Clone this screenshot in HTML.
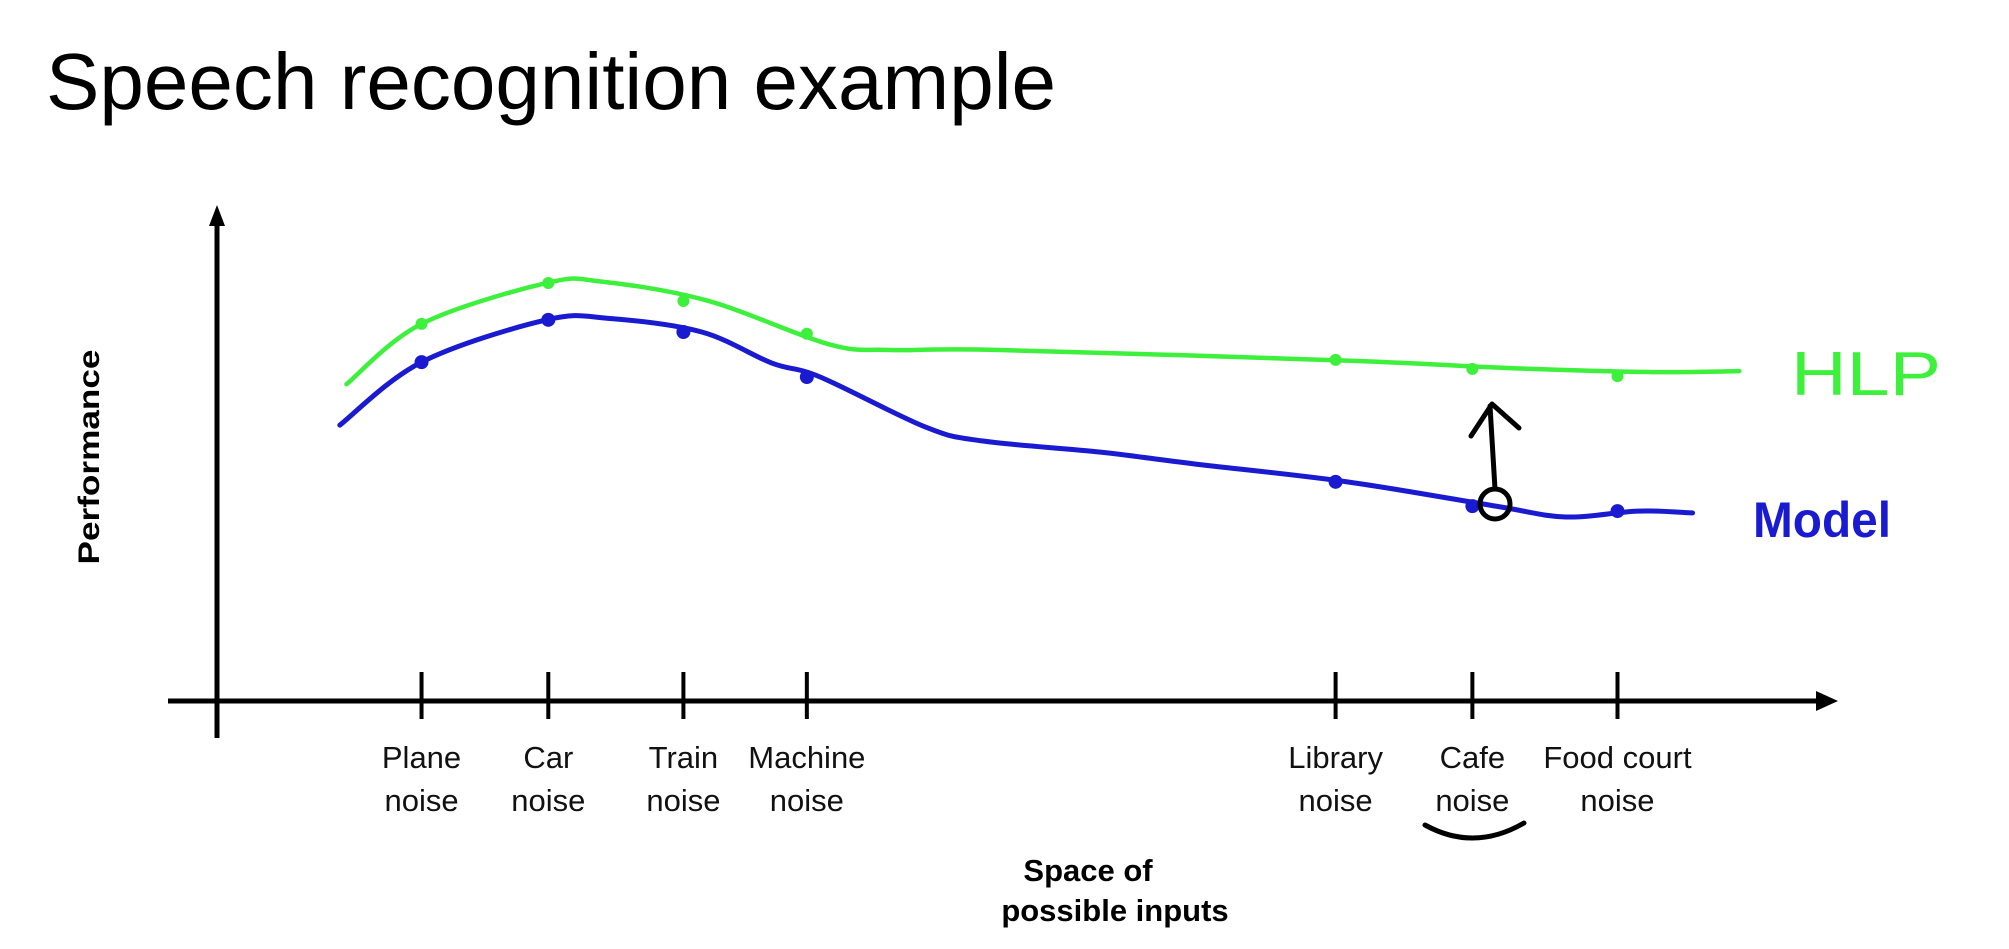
<!DOCTYPE html>
<html><head><meta charset="utf-8"><style>
html,body{margin:0;padding:0;background:#fff;}
svg{display:block;}
</style></head>
<body>
<svg id="chart" width="2009" height="949" viewBox="0 0 2009 949" xmlns="http://www.w3.org/2000/svg">
<text x="46" y="109" font-family="Liberation Sans, sans-serif" font-size="80" textLength="1010" lengthAdjust="spacingAndGlyphs" fill="#000">Speech recognition example</text>
<g id="axes"></g>
<g id="curves"></g>
<text transform="translate(99,457) rotate(-90)" text-anchor="middle" font-family="Liberation Sans, sans-serif" font-weight="bold" font-size="30" textLength="215" lengthAdjust="spacingAndGlyphs">Performance</text>
<g font-family="Liberation Sans, sans-serif" font-weight="bold" font-size="31" text-anchor="middle">
<text x="1088" y="881">Space of</text>
<text x="1115" y="921">possible inputs</text>
</g>
<g fill="none" stroke="#000" stroke-width="5" stroke-linecap="round" stroke-linejoin="round">
<ellipse cx="1495" cy="504" rx="15" ry="15"/>
<path d="M1495,489 L1490,406"/>
<path d="M1471,436 L1492,404 L1519,428"/>
</g>
<path d="M1425,825 Q1474,852 1524,823" fill="none" stroke="#000" stroke-width="5" stroke-linecap="round"/>
<text x="1791" y="395" font-family="Liberation Sans, sans-serif" font-size="62" fill="#3cf03c" textLength="150" lengthAdjust="spacingAndGlyphs">HLP</text>
<text x="1753" y="537" font-family="Liberation Sans, sans-serif" font-weight="bold" font-size="50" fill="#1a1ad0" textLength="138" lengthAdjust="spacingAndGlyphs">Model</text>
</svg>
<script>
const categories = ["Plane noise","Car noise","Train noise","Machine noise","Library noise","Cafe noise","Food court noise"];
const catPos = [15.2, 22.8, 30.9, 38.3, 70.0, 78.2, 86.9];
const hlpValues = [83.8, 92.9, 88.9, 81.6, 75.8, 73.8, 72.2];
const modelValues = [75.3, 84.7, 82.0, 72.0, 48.7, 43.3, 42.2];
const hlpCurveU = [10.7, 15.2, 22.7, 26.0, 32.4, 39.6, 43.3, 49.9, 70.9, 80.3, 88.8, 94.2];
const hlpCurveV = [70.4, 83.8, 92.9, 93.2, 88.9, 79.3, 78.0, 78.0, 75.6, 74.0, 73.1, 73.3];
const modelCurveU = [10.3, 15.2, 22.7, 26.5, 32.0, 36.2, 39.1, 45.4, 48.8, 55.9, 61.5, 70.7, 79.6, 83.8, 88.1, 91.4];
const modelCurveV = [61.3, 75.3, 84.7, 85.0, 82.0, 75.1, 72.0, 60.9, 57.8, 55.3, 52.7, 48.7, 43.3, 40.9, 42.2, 41.8];

const NS = "http://www.w3.org/2000/svg";
function xScale(u){ return 168 + u * 16.68; }
function yScale(v){ return 701 - v * 4.5; }
function mk(tag, attrs, parent){
  const e = document.createElementNS(NS, tag);
  for (const k in attrs) e.setAttribute(k, attrs[k]);
  parent.appendChild(e); return e;
}
const axes = document.getElementById("axes");
const xa = mk("line", {x1:168, y1:701, x2:1822, y2:701, stroke:"#000", "stroke-width":5}, axes);


const xah = mk("path", {d:"M1838,701 L1816,691 L1816,711 Z", fill:"#000"}, axes);


const ya = mk("line", {x1:217, y1:222, x2:217, y2:738, stroke:"#000", "stroke-width":5}, axes);


const yah = mk("path", {d:"M217,205 L209,226 L225,226 Z", fill:"#000"}, axes);



categories.forEach((c, i) => {
  const x = xScale(catPos[i]);
  const t = mk("line", {x1:x, y1:672, x2:x, y2:719, stroke:"#000", "stroke-width":4}, axes);
  
  
  const parts = c.split(" ");
  const l2 = parts.pop(); const l1 = parts.join(" ");
  const tx = mk("text", {x:x, "text-anchor":"middle", "font-family":"Liberation Sans, sans-serif", "font-size":31, fill:"#111"}, axes);
  
  
  const a = mk("tspan", {x:x, y:768}, tx); a.textContent = l1;
  const b = mk("tspan", {x:x, y:811}, tx); b.textContent = l2;
});

function smoothPath(us, vs){
  const p = us.map((u, i) => [xScale(u), yScale(vs[i])]);
  let d = "M" + p[0][0] + "," + p[0][1];
  for (let i = 0; i < p.length - 1; i++){
    const p0 = p[i-1] || p[i], p1 = p[i], p2 = p[i+1], p3 = p[i+2] || p2;
    const c1 = [p1[0] + (p2[0]-p0[0])/6, p1[1] + (p2[1]-p0[1])/6];
    const c2 = [p2[0] - (p3[0]-p1[0])/6, p2[1] - (p3[1]-p1[1])/6];
    d += " C" + c1 + " " + c2 + " " + p2;
  }
  return d;
}
const curves = document.getElementById("curves");
const hl = mk("path", {d:smoothPath(hlpCurveU, hlpCurveV), fill:"none", stroke:"#3cf03c", "stroke-width":4.5, "stroke-linecap":"round"}, curves);


const ml = mk("path", {d:smoothPath(modelCurveU, modelCurveV), fill:"none", stroke:"#1a1ad0", "stroke-width":5, "stroke-linecap":"round"}, curves);


categories.forEach((c, i) => {
  const g = mk("circle", {cx:xScale(catPos[i]), cy:yScale(hlpValues[i]), r:6, fill:"#3cf03c"}, curves);
  
  
  const b = mk("circle", {cx:xScale(catPos[i]), cy:yScale(modelValues[i]), r:7, fill:"#1a1ad0"}, curves);
  
  
});
</script>
</body></html>
